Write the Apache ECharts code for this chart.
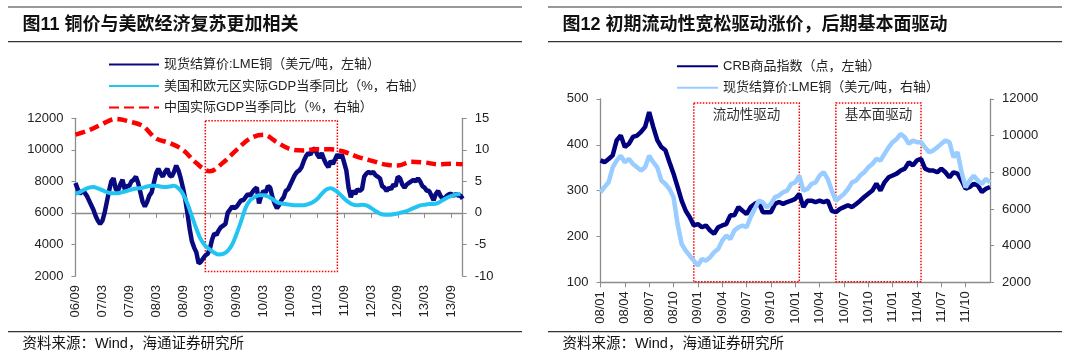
<!DOCTYPE html>
<html><head><meta charset="utf-8">
<script src="https://cdn.jsdelivr.net/npm/echarts@6/dist/echarts.min.js"></script>
<style>html,body{margin:0;padding:0;background:#fff}#c{width:1080px;height:359px}</style>
</head><body><div id="c"></div>
<script>
// ---------- data: left chart (semi-monthly, 06/09 .. 13/11) ----------
const leftXTicks = ['06/09','07/03','07/09','08/03','08/09','09/03','09/09','10/03','10/09','11/03','11/09','12/03','12/09','13/03','13/09'];
const leftCopper = [
  7900,7500,7200,7400,7300,7100,6800,6500,6200,5800,5500,5300,
  5500,6000,6700,7400,8000,8200,7500,7400,7800,8100,7500,7700,
  7700,8000,8100,8300,7900,7300,6700,6400,6700,7100,7300,7900,
  8500,8800,8500,8300,8600,8800,8400,8300,8600,9000,8700,8200,
  7600,6900,6000,5000,4200,3800,3500,2800,2900,3100,3300,3400,
  3700,4300,4700,4600,4900,5100,5200,5300,6000,6200,6400,6300,
  6400,6600,6800,6800,7000,7200,7100,7300,7500,7600,6600,7100,
  7400,7300,7700,7600,7000,6600,6300,6500,6800,7000,7400,7500,
  7800,8100,8400,8600,8700,8900,9300,9600,9800,9700,10000,10100,
  9700,9500,9800,9400,9100,8900,9300,9100,9400,9700,9500,9700,
  9200,8700,7600,7000,7400,7200,7500,7400,7500,8300,8500,8600,
  8500,8600,8400,8300,8200,7700,7600,7400,7600,7500,7800,7700,
  8300,8200,7800,7600,7800,7900,8000,8100,8000,8200,8000,7700,
  7600,7400,7400,7100,6800,7200,7400,7100,6900,6950,7100,7200,
  7200,7100,7200,7100,7100,6900
];
// monthly, 06/09 .. 13/11
const usEuGdp = [
  3.0,3.3,3.7,4.0,4.1,3.9,3.6,3.3,3.1,3.1,3.2,3.4,
  3.6,3.8,3.9,4.0,4.2,4.3,4.3,4.2,4.1,4.2,4.3,3.9,
  3.0,1.5,-0.5,-2.5,-4.2,-5.2,-5.8,-6.3,-6.6,-6.5,-6.0,-5.0,
  -3.3,-1.3,0.8,2.0,2.5,2.8,2.8,2.6,2.2,1.7,1.5,1.4,
  1.3,1.2,1.2,1.2,1.4,1.7,2.2,3.0,3.7,3.9,3.6,3.0,
  2.3,1.7,1.3,1.2,1.3,1.2,0.8,0.3,-0.1,-0.3,-0.3,-0.2,
  -0.1,0.1,0.3,0.6,0.9,1.2,1.3,1.4,1.4,1.6,2.0,2.4,
  2.7,2.9,3.0
];
const chinaGdpDates = ['06/09-1','06/12-1','07/03-1','07/06-1','07/09-1','07/12-1','08/03-1','08/06-1','08/09-1','08/12-1',
  '09/03-1','09/06-1','09/09-1','09/12-1','10/03-1','10/06-1','10/09-1','10/12-1','11/03-1','11/06-1',
  '11/09-1','11/12-1','12/03-1','12/06-1','12/09-1','12/12-1','13/03-1','13/06-1','13/09-1','13/11-2'];
const chinaGdp = [12.4,13.1,14.1,14.9,14.5,13.8,11.8,11.1,10.0,7.9,
  6.6,8.0,10.0,11.8,12.4,11.2,10.1,9.9,10.1,10.1,
  9.7,8.9,8.3,7.7,7.5,8.1,8.0,7.7,7.8,7.7];
const leftBox = [{x:'09/02-1', y:11850}, {x:'11/07-2', y:2280}];

// ---------- data: right chart (semi-monthly, 08/01 .. 12/01) ----------
const rightXTicks = ['08/01','08/04','08/07','08/10','09/01','09/04','09/07','09/10','10/01','10/04','10/07','10/10','11/01','11/04','11/07','11/10'];
const crb = [
  366,362,369,377,410,420,395,402,417,420,428,439,
  471,439,410,395,388,362,337,308,278,256,242,224,
  227,220,224,213,206,220,224,227,246,246,264,256,
  249,264,271,275,253,253,253,271,275,271,275,278,
  282,293,264,278,278,275,278,275,278,256,253,260,
  264,268,264,271,278,286,293,300,315,300,318,329,
  333,337,344,348,362,355,366,369,348,344,344,340,
  348,340,329,340,337,322,304,308,315,311,297,304,308
];
const rightCopper = [
  6900,7200,7450,8270,8640,8900,8550,8730,8450,8270,8090,8270,
  8900,8550,8270,7550,7360,7090,6640,5180,4090,3730,3450,3180,
  2910,3270,3180,3360,3640,3820,4270,4550,4360,4820,5000,5090,
  5000,5550,6000,6450,6360,6090,6270,6640,6730,6910,7000,7360,
  7450,7820,7000,7090,7360,7450,7820,8000,7640,7000,6450,6640,
  6820,7090,7450,7550,7820,8000,8270,8450,8730,8640,9000,9360,
  9640,9820,10090,9910,9550,9730,9640,9640,9360,9090,9180,9360,
  9550,9730,9640,8820,9090,8000,7180,7550,7820,7550,7360,7640,7450
];
const rightBoxes = [
  {label:'流动性驱动', x0:'08/12-2', x1:'10/01-2', y0:491, y1:101},
  {label:'基本面驱动', x0:'10/06-1', x1:'11/04-2', y0:491, y1:101}
];

const names = {
  lc: '现货结算价:LME铜（美元/吨，左轴）',
  ue: '美国和欧元区实际GDP当季同比（%，右轴）',
  cn: '中国实际GDP当季同比（%，右轴）',
  crb: 'CRB商品指数（点，左轴）',
  rc: '现货结算价:LME铜（美元/吨，右轴）'
};

// ---------- category builders ----------
function halfMonths(y, m, count) {
  const out = [];
  for (let i = 0; i < count; i++) {
    const yy = String(y % 100).padStart(2, '0'), mm = String(m).padStart(2, '0');
    out.push(yy + '/' + mm + '-' + (i % 2 + 1));
    if (i % 2 === 1) { m++; if (m > 12) { m = 1; y++; } }
  }
  return out;
}
const leftCats = halfMonths(2006, 9, leftCopper.length);
const rightCats = halfMonths(2008, 1, crb.length);

const FONT = "'Liberation Sans','Noto Sans CJK SC',sans-serif";
const AX = '#8c8c8c', TXT = '#222';

function xAx(grid, cats, ticks) {
  const show = (i, v) => v.endsWith('-1') && ticks.includes(v.slice(0, 5));
  return {
    type: 'category', gridIndex: grid, data: cats, boundaryGap: false,
    axisLine: {lineStyle: {color: AX, width: 1.3}},
    axisTick: {show: true, length: 5, interval: show, lineStyle: {color: AX}},
    axisLabel: {interval: show, rotate: 90, margin: 9, color: TXT, fontSize: 13, fontFamily: FONT,
      formatter: v => v.slice(0, 5)},
    splitLine: {show: false}
  };
}
function yAx(grid, min, max, interval, pos) {
  return {
    type: 'value', gridIndex: grid, min, max, interval, position: pos,
    axisLine: {show: true, lineStyle: {color: AX, width: 1.3}},
    axisTick: {show: true, length: 4, lineStyle: {color: AX}},
    axisLabel: {color: TXT, fontSize: 13, fontFamily: FONT, margin: 12, formatter: v => String(v)},
    splitLine: {show: false}
  };
}
function line(name, xi, yi, data, color, width, extra) {
  return Object.assign({
    name, type: 'line', xAxisIndex: xi, yAxisIndex: yi, data,
    symbol: 'none', showSymbol: false, animation: false,
    lineStyle: {color, width}, itemStyle: {color}
  }, extra || {});
}

const chart = echarts.init(document.getElementById('c'), null, {renderer: 'canvas'});

const rule = (x1, y, x2, w) => ({type: 'line', shape: {x1, y1: y, x2, y2: y}, style: {stroke: '#333', lineWidth: w}});
const txt = (x, y, text, size, bold) => ({type: 'text', x, y, style: {text, fill: '#111', font: (bold ? 'bold ' : '') + size + 'px ' + FONT, textVerticalAlign: 'middle'}});

chart.setOption({
  backgroundColor: '#fff',
  animation: false,
  grid: [
    {left: 75.5, right: 617.3, top: 118.3, bottom: 83},
    {left: 600.5, right: 90, top: 98.9, bottom: 76.7}
  ],
  xAxis: [xAx(0, leftCats, leftXTicks), xAx(1, rightCats, rightXTicks)],
  yAxis: [
    yAx(0, 2000, 12000, 2000, 'left'), yAx(0, -10, 15, 5, 'right'),
    yAx(1, 100, 500, 100, 'left'), yAx(1, 2000, 12000, 2000, 'right')
  ],
  legend: [
    {data: [names.lc, names.ue, names.cn], orient: 'vertical', left: 108, top: 58, padding: 0,
      itemWidth: 50, itemHeight: 14, itemGap: 8.5, selectedMode: false,
      itemStyle: {opacity: 0},
      textStyle: {fontSize: 13, color: TXT, fontFamily: FONT}},
    {data: [names.crb, names.rc], orient: 'vertical', left: 676, top: 59.7, padding: 0,
      itemWidth: 41, itemHeight: 14, itemGap: 8.6, selectedMode: false,
      itemStyle: {opacity: 0},
      textStyle: {fontSize: 13, color: TXT, fontFamily: FONT}}
  ],
  series: [
    line(names.lc, 0, 0, leftCopper, '#0a0a80', 4.5, {
      markArea: {silent: true,
        itemStyle: {color: 'rgba(0,0,0,0)', borderColor: '#ff0000', borderWidth: 1.5, borderType: 'dotted'},
        data: [[{xAxis: leftBox[0].x, yAxis: leftBox[0].y}, {xAxis: leftBox[1].x, yAxis: leftBox[1].y}]]}
    }),
    line(names.ue, 0, 1, usEuGdp.map((v, i) => [2 * i, v]), '#22c4f2', 4, {smooth: 0.3}),
    line(names.cn, 0, 1, chinaGdp.map((v, i) => [leftCats.indexOf(chinaGdpDates[i]), v]), '#ff0000', 4.5,
      {smooth: 0.35, lineStyle: {color: '#ff0000', width: 4.5, type: [10, 5]}}),
    line(names.crb, 1, 2, crb, '#00007f', 4.5, {
      markArea: {silent: true,
        itemStyle: {color: 'rgba(0,0,0,0)', borderColor: '#ff0000', borderWidth: 1.5, borderType: 'dotted'},
        label: {show: true, position: 'insideTop', distance: 6, color: '#333', fontSize: 13.5, fontFamily: FONT},
        data: rightBoxes.map(b => [{name: b.label, xAxis: b.x0, yAxis: b.y0}, {xAxis: b.x1, yAxis: b.y1}])}
    }),
    line(names.rc, 1, 3, rightCopper, '#99ccff', 4.5)
  ],
  graphic: [
    rule(8, 7, 522, 1.2), rule(8, 41.7, 522, 1.2), rule(8, 331.7, 522, 1.2),
    rule(548, 7, 1062, 1.2), rule(548, 41.7, 1062, 1.2), rule(548, 331.7, 1062, 1.2),
    txt(22.4, 25, '图11 铜价与美欧经济复苏更加相关', 18, true),
    txt(562.4, 25, '图12 初期流动性宽松驱动涨价，后期基本面驱动', 18, true),
    txt(22.4, 344, '资料来源：Wind，海通证券研究所', 14.5, false),
    txt(562.4, 344, '资料来源：Wind，海通证券研究所', 14.5, false)
  ]
});
</script></body></html>
